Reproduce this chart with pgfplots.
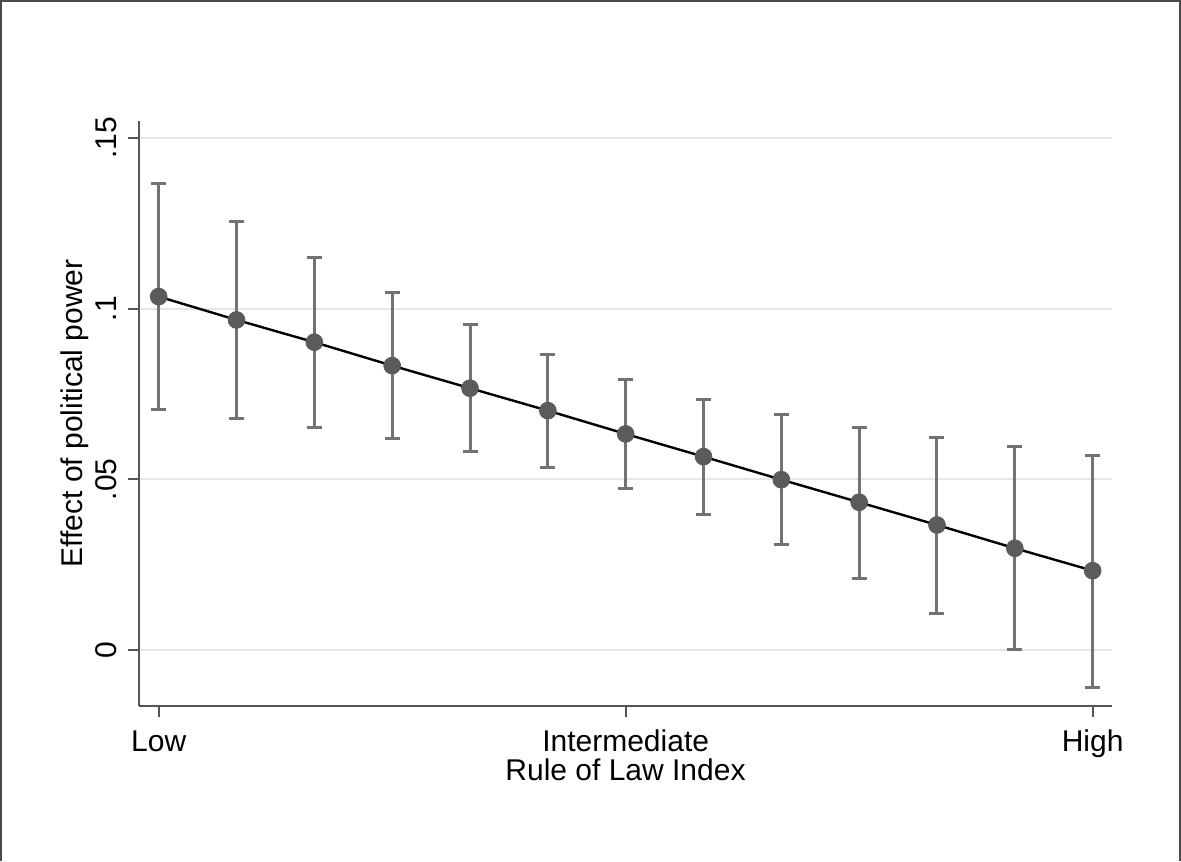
\documentclass[border=0pt]{standalone}
\usepackage{pgfplots}
\pgfplotsset{compat=1.18}
\usepackage{pgfplotstable}
\usepackage{fontspec}
\setmainfont{Liberation Sans}
\definecolor{framecol}{HTML}{4A4A4A}
\definecolor{axiscol}{HTML}{555555}
\definecolor{gridcol}{HTML}{E6E6E6}
\definecolor{barcol}{HTML}{727272}
\definecolor{markcol}{HTML}{5B5B5B}

\pgfplotstableread{
x y hi lo
0  0.10349 0.13650 0.07039
1  0.09666 0.12557 0.06787
2  0.09013 0.11491 0.06511
3  0.08327 0.10477 0.06201
4  0.07666 0.09520 0.05808
5  0.07009 0.08661 0.05340
6  0.06327 0.07929 0.04716
7  0.05662 0.07343 0.03975
8  0.04988 0.06883 0.03076
9  0.04326 0.06511 0.02100
10 0.03661 0.06219 0.01063
11 0.02979 0.05946 0.00000
12 0.02323 0.05703 -0.01093
}\data

\begin{document}
\begin{tikzpicture}
\path[use as bounding box] (0,0) rectangle (590.5pt,430.5pt);
\fill[white] (0,0) rectangle (590.5pt,430.5pt);
\draw[framecol, line width=1.25pt] (0.6pt,0) -- (0.6pt,429.9pt) -- (589.9pt,429.9pt) -- (589.9pt,0);
\begin{axis}[
  at={(69.65pt,77.5pt)}, anchor=south west,
  scale only axis, width=486.2pt, height=292.65pt,
  xmin=-0.249, xmax=12.245,
  ymin=-0.0164, ymax=0.1550,
  axis x line*=bottom, axis y line*=left,
  axis line style={axiscol, line width=1pt},
  xtick={0,6,12}, xticklabels={Low,Intermediate,High},
  ytick={0,0.05,0.1,0.15}, yticklabels={0,.05,.1,.15},
  tick align=outside, major tick length=5.5pt,
  tick style={axiscol, line width=1pt},
  ymajorgrids, grid style={gridcol, line width=1pt},
  font=\fontsize{15}{18}\selectfont,
  ticklabel style={font=\fontsize{15}{18}\selectfont},
  yticklabel style={rotate=90, anchor=base},
  yticklabel shift=6pt,
  xticklabel style={anchor=base},
  xticklabel shift=17.35pt,
  xlabel={Rule of Law Index},
  ylabel={Effect of political power},
  xlabel style={font=\fontsize{15}{18}\selectfont, at={([yshift=-37.5pt]axis description cs:0.5,0)}, anchor=base},
  ylabel style={font=\fontsize{15}{18}\selectfont, at={([xshift=-28.5pt]axis description cs:0,0.5)}, anchor=base},
  clip=false,
]
\addplot[only marks, mark=none, forget plot,
  error bars/.cd, y dir=both, y explicit,
  error bar style={line width=1.5pt, color=barcol},
  error mark options={rotate=90, mark size=3.75pt, line width=1.5pt, color=barcol}]
  table[x=x, y=y, y error plus expr=\thisrow{hi}-\thisrow{y}, y error minus expr=\thisrow{y}-\thisrow{lo}] {\data};
\addplot[black, line width=1.2pt, mark=none] table[x=x, y=y] {\data};
\addplot[only marks, mark=*, mark size=4.2pt, mark options={fill=markcol, draw=markcol}] table[x=x, y=y] {\data};
\end{axis}
\end{tikzpicture}
\end{document}
